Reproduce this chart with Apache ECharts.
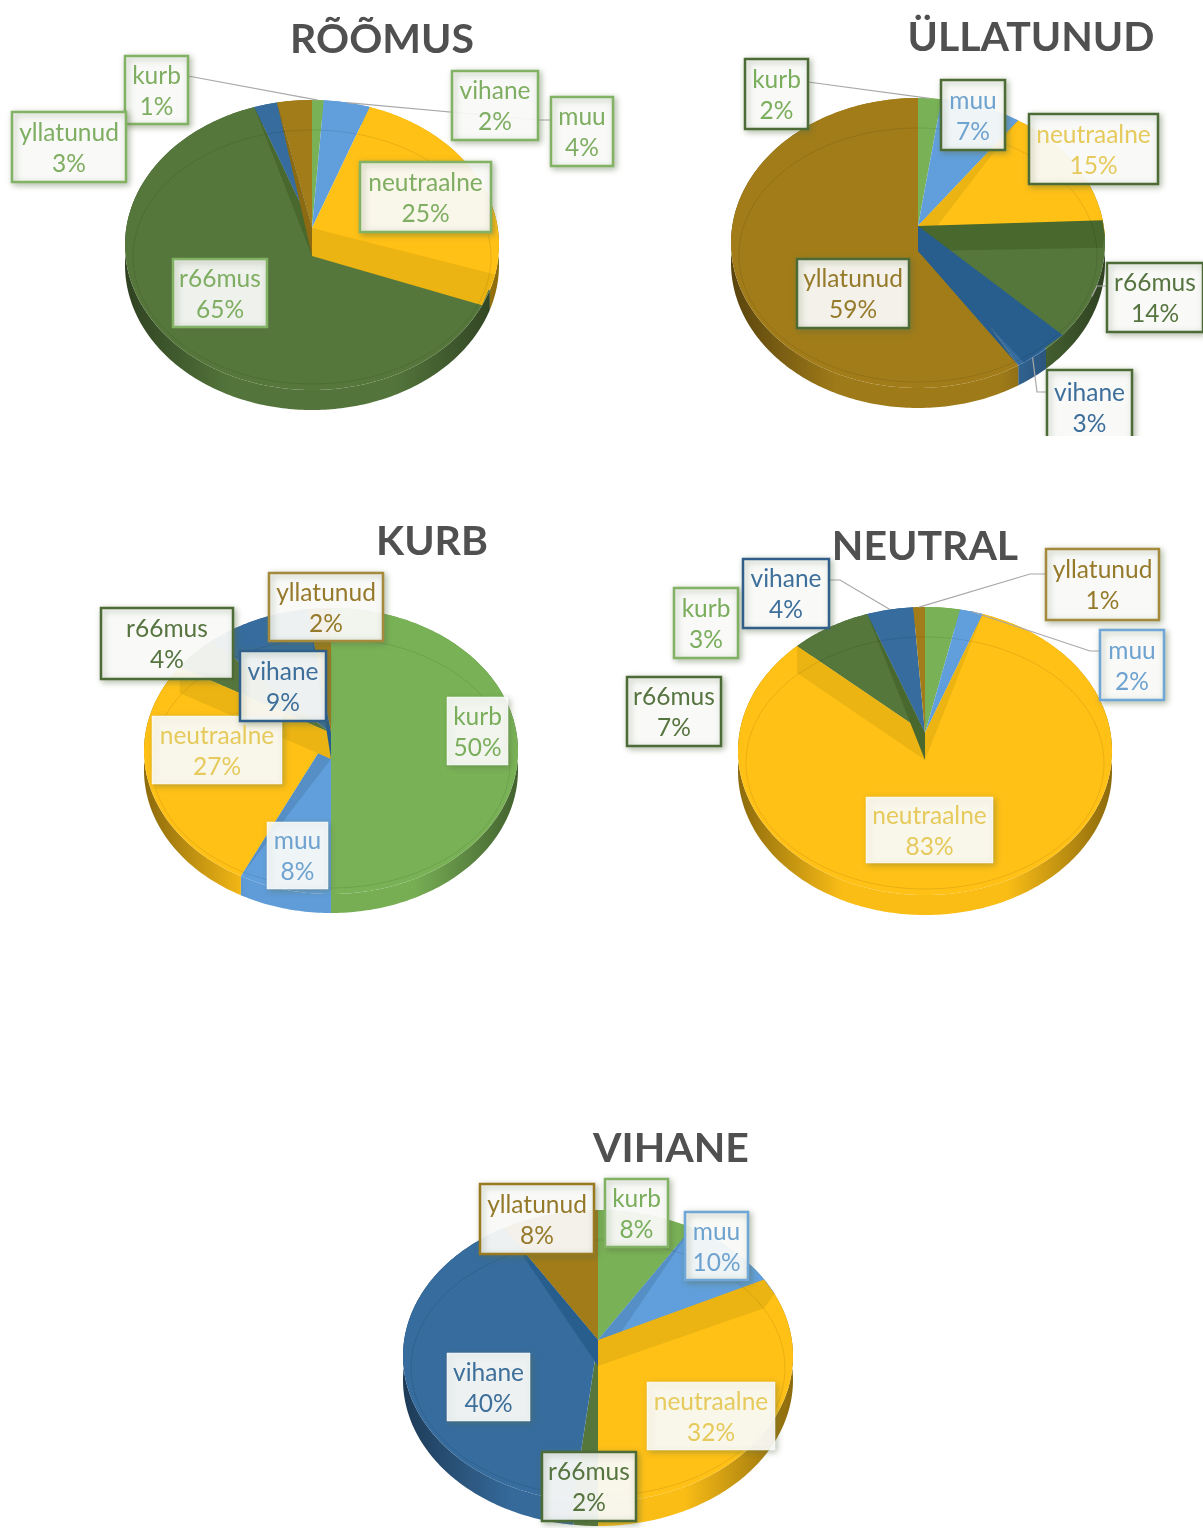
<!DOCTYPE html>
<html>
<head>
<meta charset="utf-8">
<style>html,body{margin:0;padding:0;background:#fff;overflow:hidden}#c{width:1203px;height:1528px}</style>
<script src="https://cdn.jsdelivr.net/npm/echarts@6/dist/echarts.min.js"></script>
</head>
<body>
<div id="c"></div>
<script>
// ---- data ----
const sliceNames = ['kurb', 'muu', 'neutraalne', 'r66mus', 'vihane', 'yllatunud'];
const roomusValues = [1, 4, 25, 65, 2, 3];
const yllatunudValues = [2, 7, 15, 14, 3, 59];
const kurbValues = [50, 8, 27, 4, 9, 2];
const neutralValues = [3, 2, 83, 7, 4, 1];
const vihaneValues = [8, 10, 32, 2, 40, 8];
const chartTitles = ['RÕÕMUS', 'ÜLLATUNUD', 'KURB', 'NEUTRAL', 'VIHANE'];

// ---- styles ----
const sliceColors = ['#79B256', '#619FDC', '#FFC116', '#55773C', '#366C9E', '#A17C18'];
const bandColors  = ['#6CA44D', '#558FC6', '#ECB412', '#48682E', '#285E8E', '#8B6A11'];
const textColors  = ['#7AAE5C', '#6FA3CF', '#E6CA5C', '#55743F', '#3D6F9A', '#967A2B'];
const G = '#82B263', DG = '#4C6B36', DB = '#2F5F8A', LB = '#6FA8D8', BR = '#A58A3E';

// ---- layout: one entry per pie ----
// pie: cx, cy, rx, ry, side depth, apex y, inner-face height
// boxes: left, top, right, bottom, border colour per slice; bands: [share boundary index, owning slice]
const layouts = [
  { values: roomusValues, title: [382, 35], cx: 312, cy: 245, rx: 187, ry: 145, depth: 20, ay: 228, face: 28,
    bands: [[3, 2], [4, 3], [5, 5]], textOverride: '#7FAE62',
    boxes: [[125,56,188,124,G],[551,97,613,166,G],[360,162,491,232,G],[173,259,267,327,G],[452,71,538,140,G],[12,112,126,182,G]],
    leaders: [[0,[[188,76]]],[1,[[551,120],[538,120]]]] },
  { values: yllatunudValues, title: [1031, 33], cx: 918, cy: 243, rx: 187, ry: 145, depth: 20, ay: 226, face: 25,
    bands: [[3, 3], [4, 4], [5, 4], [2, 2]],
    boxes: [[745,59,808,129,DG],[941,80,1005,150,DG],[1029,114,1158,184,DG],[1107,263,1203,332,DG],[1047,370,1132,445,DG],[797,259,909,328,DG]],
    leaders: [[0,[[808,82]]],[3,[[1107,286],[1097,286]]],[4,[[1047,392],[1037,392]]]] },
  { values: kurbValues, title: [432, 537], cx: 331, cy: 751, rx: 187, ry: 143, depth: 19, ay: 733, face: 26,
    bands: [[2, 1], [3, 2], [5, 4]],
    boxes: [[447,697,508,765,null],[267,822,328,889,null],[152,716,282,784,null],[101,608,233,679,DG],[240,651,326,721,DB],[269,573,383,641,BR]],
    leaders: [] },
  { values: neutralValues, title: [925, 542], cx: 925, cy: 751, rx: 187, ry: 144, depth: 20, ay: 733, face: 27,
    bands: [[2, 2], [3, 2], [4, 3]],
    boxes: [[674,588,738,658,G],[1100,630,1164,700,LB],[866,797,993,863,null],[627,677,721,746,DG],[743,559,829,628,DB],[1046,549,1159,620,BR]],
    leaders: [[4,[[829,580],[840,580]]],[5,[[1046,574],[1030,574]]],[1,[[1100,651],[1090,651]]]] },
  { values: vihaneValues, title: [671, 1144], cx: 598, cy: 1356, rx: 195, ry: 146, depth: 24, ay: 1340, face: 26,
    bands: [[2, 2], [1, 1], [5, 4], [3, 3]],
    boxes: [[605,1179,668,1247,G],[685,1212,748,1280,LB],[647,1382,775,1450,null],[542,1452,636,1521,DG],[447,1353,530,1421,null],[480,1184,594,1254,'#9A7A20']],
    leaders: [] }
];

function rimPoint(p, share, dy) {
  const t = share * Math.PI * 2;
  return [p.cx + p.rx * Math.sin(t), p.cy - p.ry * Math.cos(t) + (dy || 0)];
}
function arcPoints(p, from, to, dy) {
  const pts = [];
  const n = Math.max(2, Math.ceil((to - from) * 360));
  for (let i = 0; i <= n; i++) pts.push(rimPoint(p, from + (to - from) * i / n, dy));
  return pts;
}
// point on the ellipse at height y, on the side of the boundary given by share
function onEllipse(p, share, y) {
  const side = Math.sin(share * Math.PI * 2) >= 0 ? 1 : -1;
  const d = Math.min(1, Math.abs(y - p.cy) / p.ry);
  return [p.cx + side * p.rx * Math.sqrt(1 - d * d), y];
}
function shade(hex, k) {
  const n = parseInt(hex.slice(1), 16);
  const c = [(n >> 16) & 255, (n >> 8) & 255, n & 255].map(v => Math.round(v * k));
  return 'rgb(' + c.join(',') + ')';
}
// inner face along one slice boundary: wedge for steep boundaries, a band otherwise
function bandPoints(p, share) {
  const t = share * Math.PI * 2;
  const rim = rimPoint(p, share, 0);
  const a = [p.cx, p.ay], a2 = [p.cx, p.ay + p.face];
  if (Math.abs(Math.sin(t)) < 0.6) return [a, rim, a2];
  if (Math.cos(t) > 0.5) return [a, rim, [rim[0], rim[1] + p.face], a2];
  const up = onEllipse(p, share, rim[1] - p.face * 0.55);
  const lowY = rim[1] + p.face * 0.55;
  if (Math.cos(t) > 0) return [a, up, rim, [up[0], lowY], a2];
  return [a, up, onEllipse(p, share, lowY), a2];
}

function makeRender(p) {
  const total = p.values.reduce((a, b) => a + b, 0);
  const cum = [0];
  p.values.forEach((v, i) => cum.push(cum[i] + v / total));
  return function (params, api) {
    const i = params.dataIndex;
    const value = api.value(1);
    const from = cum[i], to = cum[i + 1];
    const color = sliceColors[i];
    const kids = [];
    // side wall
    const wall = arcPoints(p, from, to, 0).concat(arcPoints(p, from, to, p.depth).reverse());
    kids.push({
      type: 'polygon', z2: 1, shape: { points: wall },
      style: { fill: new echarts.graphic.LinearGradient(p.cx - p.rx, 0, p.cx + p.rx, 0, [
        { offset: 0, color: shade(color, 0.55) },
        { offset: 0.28, color: shade(color, 0.98) },
        { offset: 0.72, color: shade(color, 0.98) },
        { offset: 1, color: shade(color, 0.55) }
      ], true) }
    });
    // top face
    kids.push({
      type: 'polygon', z2: 2, shape: { points: [[p.cx, p.ay]].concat(arcPoints(p, from, to, 0)) },
      style: { fill: color }
    });
    // inner cut faces
    p.bands.filter(b => b[1] === i).forEach(b => {
      kids.push({
        type: 'polygon', z2: 3,
        shape: { points: bandPoints(p, cum[b[0]]) },
        style: { fill: bandColors[i] }
      });
    });
    // faint inner ring, once per pie
    if (i === 0) {
      kids.push({
        type: 'ellipse', z2: 4, silent: true,
        shape: { cx: p.cx, cy: p.cy + 12, rx: p.rx - 8, ry: p.ry - 18 },
        style: { fill: 'none', stroke: 'rgba(0,0,0,0.09)', lineWidth: 1 }
      });
    }
    // leader line
    const leader = p.leaders.find(l => l[0] === i);
    if (leader) {
      kids.push({
        type: 'polyline', z2: 5,
        shape: { points: leader[1].concat([rimPoint(p, (from + to) / 2, 0)]) },
        style: { fill: 'none', stroke: '#A8A8A8', lineWidth: 1.2 }
      });
    }
    // data label
    const b = p.boxes[i];
    kids.push({
      type: 'rect', z2: 6,
      shape: { x: b[0], y: b[1], width: b[2] - b[0], height: b[3] - b[1] },
      style: {
        fill: 'rgba(255,255,255,0.9)',
        stroke: b[4] || 'rgba(255,255,255,0.5)',
        lineWidth: b[4] ? 2.5 : 1,
        shadowBlur: 6, shadowOffsetX: 2, shadowOffsetY: 2,
        shadowColor: 'rgba(90,110,70,0.45)'
      }
    });
    kids.push({
      type: 'text', z2: 7, silent: true,
      style: {
        x: (b[0] + b[2]) / 2, y: (b[1] + b[3]) / 2 + 1.5,
        text: sliceNames[i] + '\n' + value + '%',
        fill: p.textOverride || textColors[i],
        font: '24.5px Lato',
        lineHeight: 31,
        align: 'center', verticalAlign: 'middle'
      }
    });
    return { type: 'group', children: kids };
  };
}

const option = {
  animation: false,
  backgroundColor: '#fff',
  title: layouts.map((p, k) => ({
    text: chartTitles[k],
    left: p.title[0] - 5, top: p.title[1],
    textAlign: 'center', textVerticalAlign: 'middle',
    textStyle: { fontFamily: 'Lato', fontWeight: 'bold', fontSize: 41, color: '#505050' }
  })),
  series: layouts.map((p, k) => ({
    type: 'custom',
    name: chartTitles[k],
    coordinateSystem: 'none',
    silent: true,
    data: sliceNames.map((n, i) => [n, p.values[i]]),
    encode: { value: 1 },
    renderItem: makeRender(p)
  })),
  graphic: [{ type: 'rect', z: 100, shape: { x: 1040, y: 436, width: 110, height: 20 }, style: { fill: '#fff' } }]
};
const chart = echarts.init(document.getElementById('c'), null, { renderer: 'canvas' });
chart.setOption(option);
</script>
</body>
</html>
